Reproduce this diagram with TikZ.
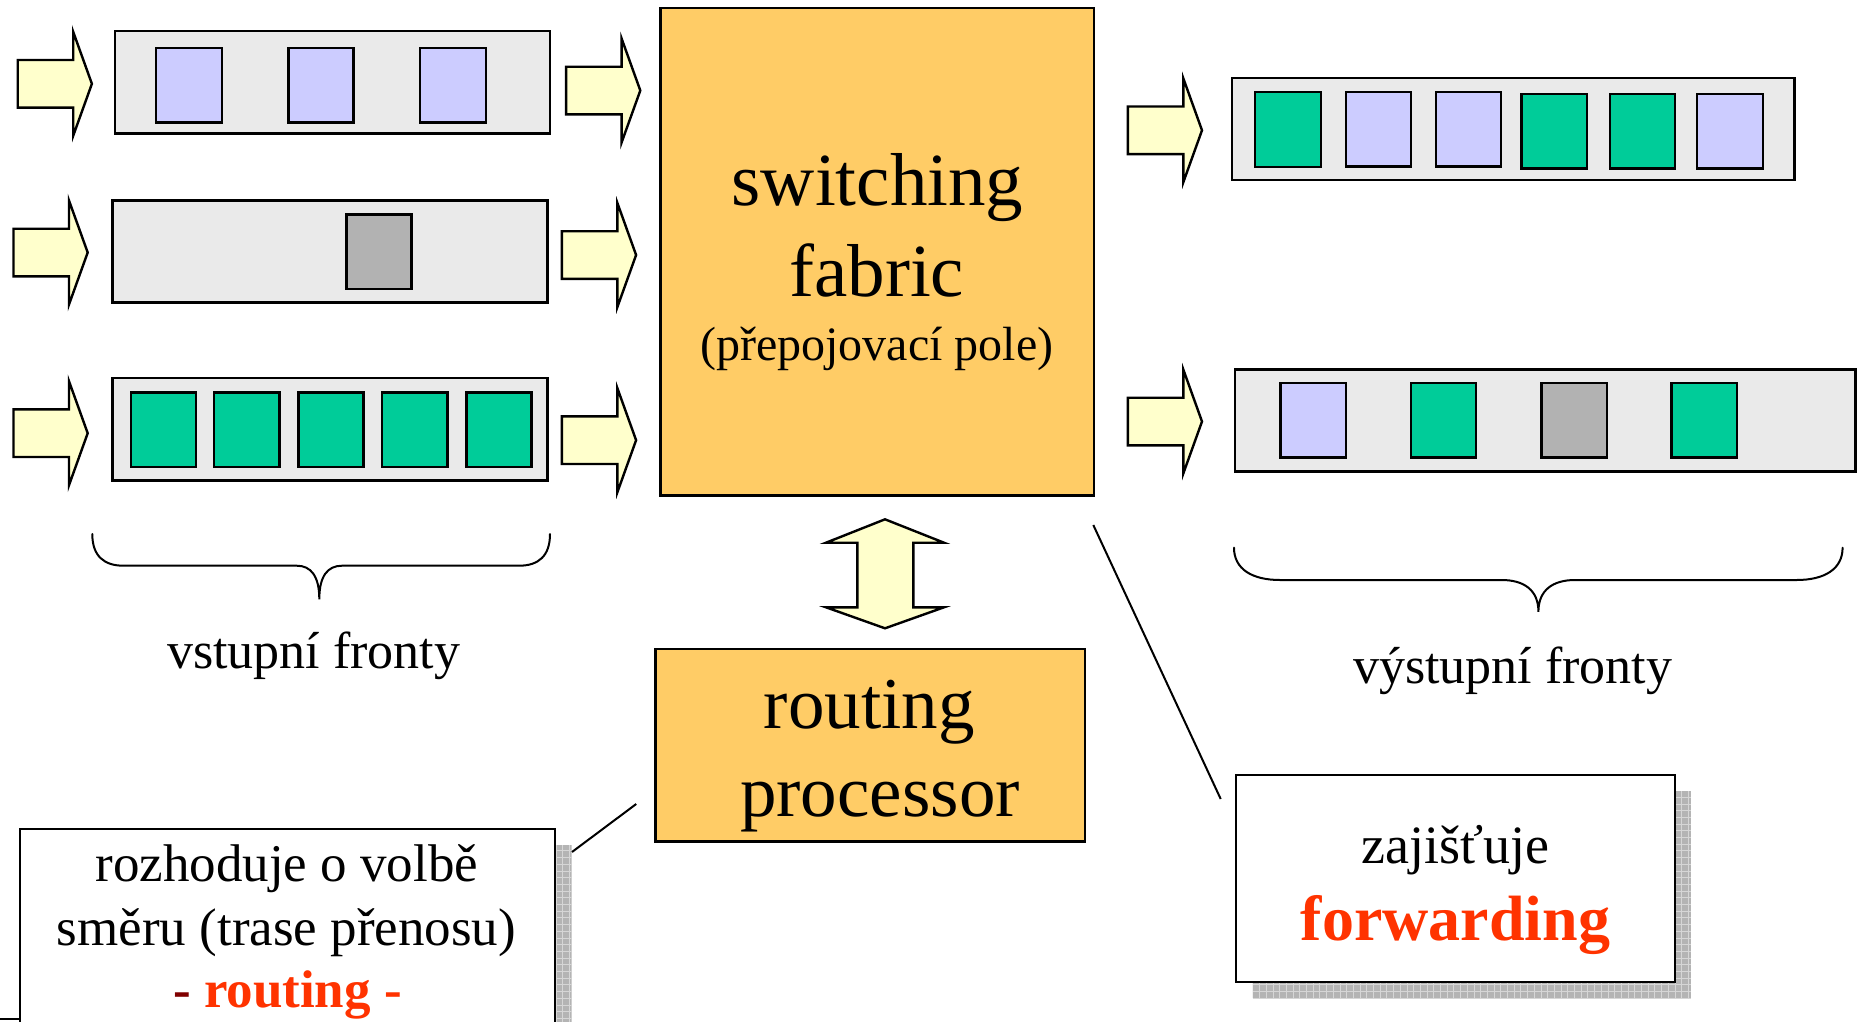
\documentclass[tikz,border=0pt]{standalone}
\usepackage{fontspec}
\setmainfont{Liberation Serif}
\definecolor{qfill}{HTML}{EAEAEA}
\definecolor{lav}{HTML}{CCCCFF}
\definecolor{grn}{HTML}{00CC99}
\definecolor{pgray}{HTML}{B2B2B2}
\definecolor{ayel}{HTML}{FFFFCC}
\definecolor{org}{HTML}{FFCC66}
\definecolor{hot}{HTML}{FF3300}
\definecolor{dred}{HTML}{800000}
\definecolor{shad}{HTML}{B4B4B4}
\definecolor{shadline}{HTML}{D6D6D6}
\tikzset{
  blockarrow/.pic={
    \path[draw=black,line width=2.4pt,fill=ayel,line join=miter]
      (0,-23.8) -- (55.5,-23.8) -- (55.5,-52) -- (74.2,0) -- (55.5,52)
      -- (55.5,23.8) -- (0,23.8) -- cycle;
  },
  queue/.style={fill=qfill,draw=black,line width=2.5pt},
  pkt/.style={draw=black,line width=2.4pt},
  unitbox/.style={fill=org,draw=black,line width=2.5pt,inner sep=0pt},
  notebox/.style={fill=white,draw=black,line width=2.3pt,inner sep=0pt},
  txt/.style={inner sep=0pt,anchor=base},
  wire/.style={draw=black,line width=2pt},
  brace/.style={draw=black,line width=2pt,line cap=round},
}
\newcommand{\shadowgrid}[4]{%
  \begin{scope}
    \clip (#1,#2) rectangle (#3,#4);
    \fill[shad] (#1,#2) rectangle (#3,#4);
    \draw[shadline,line width=0.9pt,step=6.7pt] (#1,#2) grid (#3,#4);
  \end{scope}}
\begin{document}
\begin{tikzpicture}[x=1pt,y=-1pt]
\useasboundingbox (0,0) rectangle (1864,1021);
\clip (0,0) rectangle (1864,1021);

% ---- input side: arrows and queues ----
\pic (inA1) at (17.7,83.8) {blockarrow};
\pic (inA2) at (13.5,252.5) {blockarrow};
\pic (inA3) at (13.5,433.2) {blockarrow};
\pic (inB1) at (566.1,90.5) {blockarrow};
\pic (inB2) at (561.9,255) {blockarrow};
\pic (inB3) at (561.9,440.2) {blockarrow};

\path[queue] (114.9,31) rectangle (550.1,133.7);
\path[pkt,fill=lav] (155.7,47.7) rectangle (221.8,122.3);
\path[pkt,fill=lav] (288.3,47.7) rectangle (353.5,122.3);
\path[pkt,fill=lav] (420,47.7) rectangle (486.1,122.3);

\path[queue] (112.4,200.3) rectangle (547.6,302.7);
\path[pkt,fill=pgray] (346.4,214.3) rectangle (411.6,288.7);

\path[queue] (112.4,378) rectangle (547.6,480.3);
\foreach \xa/\xb in {130.9/195.7,214.2/279.5,298.4/363.6,382.2/447.4,466.3/531.6}
  \path[pkt,fill=grn] (\xa,392.3) rectangle (\xb,466.7);

% ---- output side: arrows and queues ----
\pic (outA1) at (1127.8,130.3) {blockarrow};
\pic (outA2) at (1127.8,421.5) {blockarrow};

\path[queue] (1232.1,78) rectangle (1794.4,180);
\path[pkt,fill=grn] (1255,91.7) rectangle (1320.8,166.7);
\path[pkt,fill=lav] (1346.1,91.7) rectangle (1410.9,166.3);
\path[pkt,fill=lav] (1435.8,91.7) rectangle (1501.1,166.3);
\path[pkt,fill=grn] (1521.5,94) rectangle (1586.8,168.3);
\path[pkt,fill=grn] (1609.7,94) rectangle (1675,168.3);
\path[pkt,fill=lav] (1697,94) rectangle (1762.8,168.3);

\path[queue] (1235,369.3) rectangle (1855.4,471.7);
\path[pkt,fill=lav] (1280.3,382.7) rectangle (1346.1,457.3);
\path[pkt,fill=grn] (1410.9,382.7) rectangle (1476.2,457.3);
\path[pkt,fill=pgray] (1541.5,382.7) rectangle (1606.8,457.3);
\path[pkt,fill=grn] (1671.6,382.7) rectangle (1736.9,457.3);

% ---- switching fabric ----
\node[unitbox,minimum width=433.3pt,minimum height=487.3pt] (fabric) at (877.35,251.85) {};
\node[txt,font=\fontsize{75}{80}\selectfont] (fabA) at (877.5,205) {switching};
\node[txt,font=\fontsize{75}{80}\selectfont] (fabB) at (876.7,296.7) {fabric};
\node[txt,font=\fontsize{48}{52}\selectfont] (fabC) at (876.7,360) {(přepojovací pole)};

% ---- two-way arrow between fabric and processor ----
\path[draw=black,line width=2.4pt,fill=ayel,line join=miter]
  (885,519.3) -- (944,542.7) -- (913.3,542.7) -- (913.3,607.3) -- (944,607.3)
  -- (885,628.3) -- (826,607.3) -- (857.3,607.3) -- (857.3,542.7) -- (826,542.7) -- cycle;

% ---- routing processor ----
\node[unitbox,minimum width=429.3pt,minimum height=192.7pt] (proc) at (870.35,745.35) {};
\node[txt,font=\fontsize{73}{78}\selectfont] (procA) at (869.3,728.3) {routing};
\node[txt,font=\fontsize{73}{78}\selectfont] (procB) at (880,816.7) {processor};

% ---- braces and queue labels ----
\path[brace] (92.3,534) .. controls (92.3,556) and (104,565.7) .. (123.5,565.7)
  -- (296.7,565.7) .. controls (311,565.7) and (319.3,576) .. (319.3,599.3)
  .. controls (319.3,576) and (327.6,565.7) .. (342,565.7)
  -- (519,565.7) .. controls (538.5,565.7) and (550,556) .. (550,534);
\node[txt,font=\fontsize{52}{56}\selectfont] (inLabel) at (313.7,668.3) {vstupní fronty};

\path[brace] (1234,547.7) .. controls (1234,569) and (1252,580) .. (1280,580)
  -- (1501.6,580) .. controls (1524,580) and (1538.4,590) .. (1538.4,611.7)
  .. controls (1538.4,590) and (1553,580) .. (1575,580)
  -- (1796.6,580) .. controls (1824.6,580) and (1842.6,569) .. (1842.6,547.7);
\node[txt,font=\fontsize{52}{56}\selectfont] (outLabel) at (1512.7,683.3) {výstupní fronty};

% ---- note: forwarding ----
\shadowgrid{1252.7}{791}{1691}{998.3}
\node[notebox,minimum width=439pt,minimum height=207.3pt] (fwd) at (1455.5,878.65) {};
\node[txt,font=\fontsize{54}{58}\selectfont] (fwdA) at (1455.3,863.3) {zajišťuje};
\node[txt,font=\fontsize{64}{68}\selectfont\bfseries,text=hot] (fwdB) at (1455.5,940) {forwarding};
\coordinate (fwdTail) at (1093.3,525);
\coordinate (fwdHead) at (1220.7,799);
\path[wire] (fwdTail) -- (fwdHead);

% ---- note: routing ----
\shadowgrid{36.6}{845}{571.6}{1060}
\node[notebox,minimum width=535pt,minimum height=231pt] (rt) at (287.4,944.5) {};
\node[txt,font=\fontsize{53}{58}\selectfont] (rtA) at (286.7,881.7) {rozhoduje o volbě};
\node[txt,font=\fontsize{53}{58}\selectfont] (rtB) at (286.5,945) {směru (trase přenosu)};
\node[txt,font=\fontsize{53}{58}\selectfont\bfseries] (rtC) at (287.5,1007.5)
  {\textcolor{dred}{-} \textcolor{hot}{routing -}};
\coordinate (rtTail) at (572,852);
\coordinate (rtHead) at (636.2,804);
\path[wire] (rtTail) -- (rtHead);
\coordinate (edgeA) at (0,1019.3);
\coordinate (edgeB) at (20,1019.3);
\path[wire] (edgeA) -- (edgeB);
\end{tikzpicture}
\end{document}
